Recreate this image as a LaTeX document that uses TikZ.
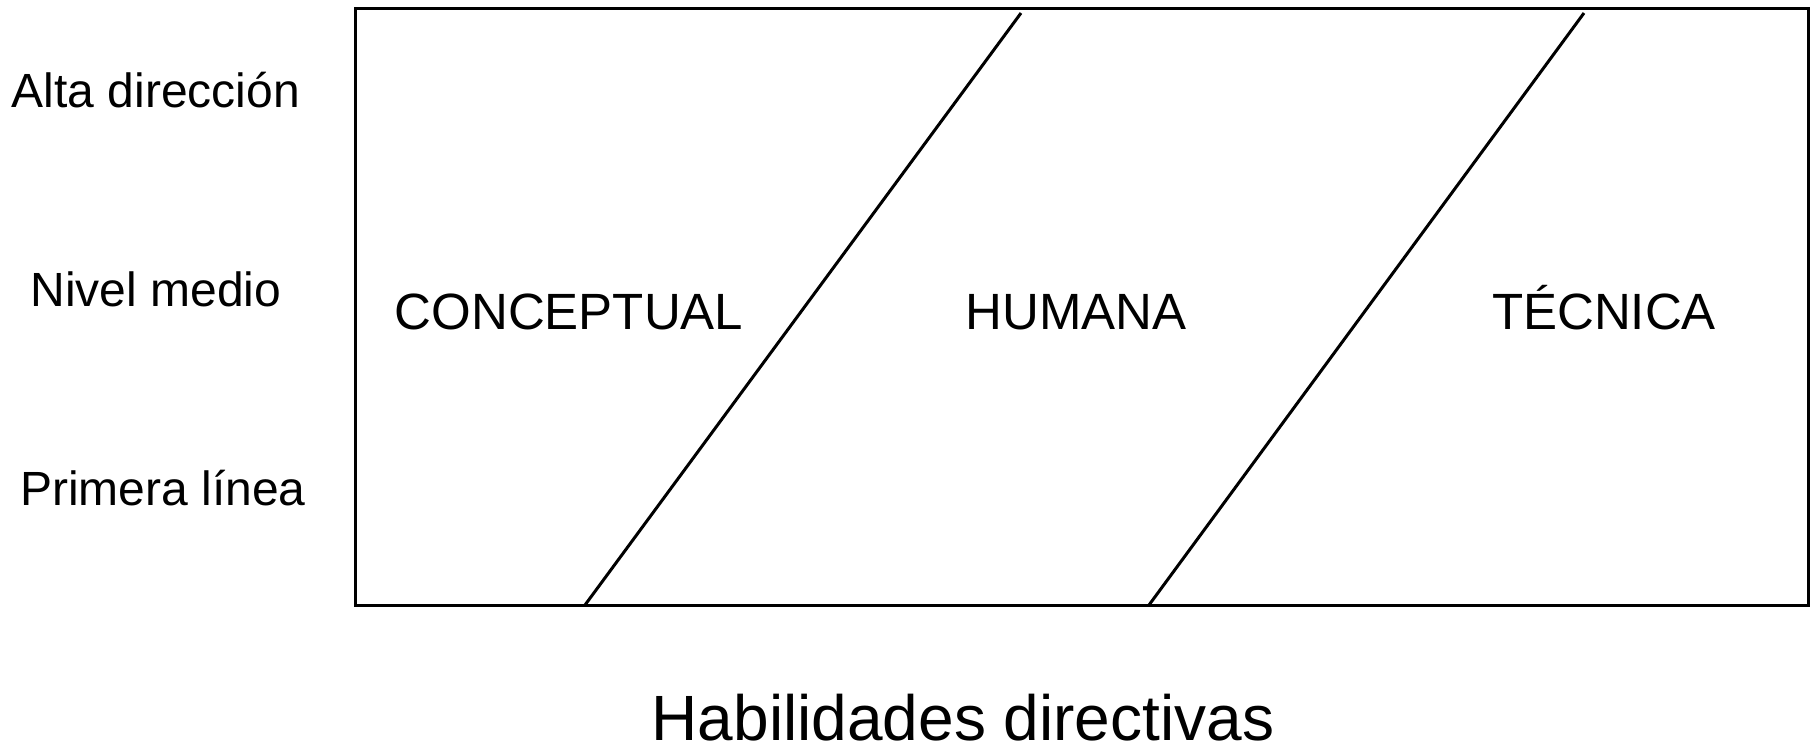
\documentclass[tikz,border=0pt]{standalone}
\usepackage{fontspec}
\setmainfont{Liberation Sans}
\usetikzlibrary{positioning}

\begin{document}
\begin{tikzpicture}[x=0.5pt, y=-0.5pt, line width=1.5pt,
    level/.style={anchor=base, inner sep=0pt, font=\fontsize{24}{28}\selectfont},
    skill/.style={anchor=base, inner sep=0pt, font=\fontsize{25.5}{30}\selectfont}]
                            \useasboundingbox (0,0) rectangle (1814,745);
                            \coordinate (nw) at (355,8);
                            \coordinate (se) at (1808,605);
                            \draw (nw) rectangle (se);
                            % levels
                            \node [level] (alta) at (156,107) {Alta dirección};
                            \node [level] (medio) at (156,306) {Nivel medio};
                            \node [level] (primera) at (163,505) {Primera línea};
                            % skills
                            \node [skill] (conceptual) at (569,329) {CONCEPTUAL};
                            \node [skill] (humana) at (1076,329) {HUMANA};
                            \node [skill] (tecnica) at (1604,329) {TÉCNICA};
                            % dividing lines
                            \coordinate (atop) at (1021,13);
                            \coordinate (abot) at (585,605);
                            \coordinate (btop) at (1584,13);
                            \coordinate (bbot) at (1149,605);
                            \draw (atop) -- (abot);
                            \draw (btop) -- (bbot);
                            \node [anchor=base, inner sep=0pt, font=\fontsize{32}{38}\selectfont] (habilidades) at (963,740) {Habilidades directivas};
                        \end{tikzpicture}
\end{document}
